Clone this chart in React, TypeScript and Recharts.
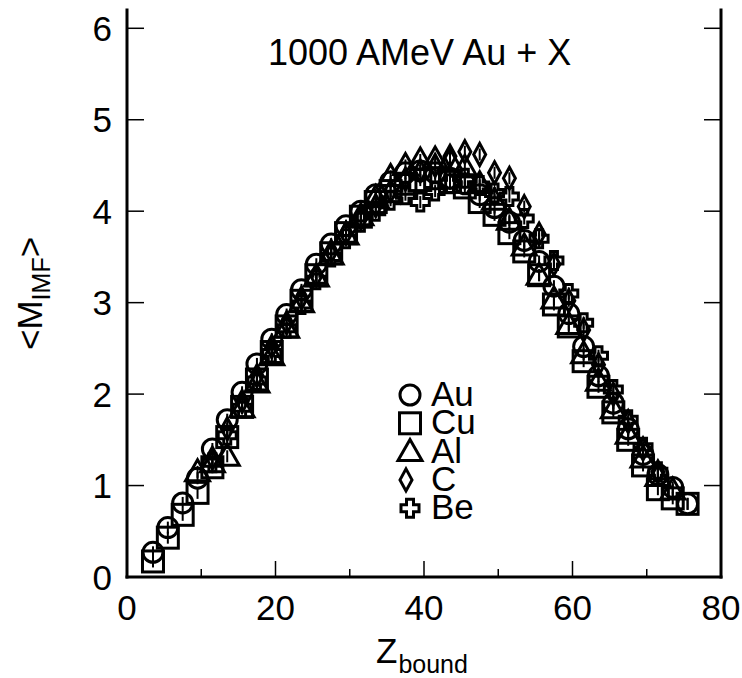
import React from 'react';
import { ScatterChart, Scatter, XAxis, YAxis, Customized } from 'recharts';

const FONT = '"Liberation Sans", Arial, Helvetica, sans-serif';

// Z_bound bins
const zAu = [3.5, 5.5, 7.5, 9.5, 11.5, 13.5, 15.5, 17.5, 19.5, 21.5, 23.5, 25.5, 27.5, 29.5, 31.5, 33.5, 35.5, 37.5, 39.5, 41.5, 43.5, 45.5, 47.5, 49.5, 51.5, 53.5, 55.5, 57.5, 59.5, 61.5, 63.5, 65.5, 67.5, 69.5, 71.5, 73.5, 75.5];
const mAu = [0.27, 0.54, 0.81, 1.08, 1.40, 1.72, 2.02, 2.33, 2.60, 2.87, 3.14, 3.42, 3.64, 3.84, 4.00, 4.18, 4.32, 4.42, 4.44, 4.42, 4.36, 4.30, 4.18, 4.04, 3.88, 3.68, 3.45, 3.18, 2.88, 2.52, 2.20, 1.90, 1.62, 1.34, 1.12, 0.98, 0.80];

const zCu = zAu;
const mCu = [0.17, 0.43, 0.68, 0.92, 1.20, 1.53, 1.86, 2.16, 2.46, 2.74, 3.02, 3.30, 3.54, 3.76, 3.94, 4.10, 4.22, 4.30, 4.34, 4.36, 4.32, 4.26, 4.10, 3.96, 3.76, 3.56, 3.30, 2.98, 2.74, 2.36, 2.08, 1.80, 1.50, 1.22, 0.96, 0.86, 0.80];

const zAl = [9.5, 11.5, 13.5, 15.5, 17.5, 19.5, 21.5, 23.5, 25.5, 27.5, 29.5, 31.5, 33.5, 35.5, 37.5, 39.5, 41.5, 43.5, 45.5, 47.5, 49.5, 51.5, 53.5, 55.5, 57.5, 59.5, 61.5, 63.5, 65.5, 67.5, 69.5, 71.5, 73.5];
const mAl = [1.15, 1.25, 1.32, 1.85, 2.12, 2.42, 2.72, 3.00, 3.28, 3.52, 3.74, 3.95, 4.15, 4.38, 4.50, 4.56, 4.57, 4.55, 4.48, 4.30, 4.12, 3.90, 3.62, 3.30, 3.04, 2.76, 2.44, 2.14, 1.84, 1.56, 1.30, 1.10, 0.95];

const zC = [11.5, 13.5, 15.5, 17.5, 19.5, 21.5, 23.5, 25.5, 27.5, 29.5, 31.5, 33.5, 35.5, 37.5, 39.5, 41.5, 43.5, 45.5, 47.5, 49.5, 51.5, 53.5, 55.5, 57.5, 59.5, 61.5, 63.5, 65.5, 67.5, 69.5, 71.5];
const mC = [1.30, 1.62, 1.92, 2.20, 2.52, 2.78, 3.05, 3.30, 3.56, 3.76, 3.92, 4.06, 4.22, 4.35, 4.44, 4.50, 4.60, 4.65, 4.62, 4.42, 4.36, 4.05, 3.75, 3.42, 3.02, 2.70, 2.32, 2.00, 1.70, 1.40, 1.15];

const zBe = zC;
const mBe = [1.25, 1.55, 1.85, 2.15, 2.45, 2.72, 2.98, 3.25, 3.50, 3.70, 3.88, 4.00, 4.12, 4.18, 4.10, 4.22, 4.30, 4.36, 4.28, 4.20, 4.16, 3.92, 3.70, 3.46, 3.10, 2.78, 2.42, 2.05, 1.72, 1.42, 1.15];

const xTicks = [0, 10, 20, 30, 40, 50, 60, 70, 80];
const xMajor = [0, 20, 40, 60, 80];
const yTicks = [0, 1, 2, 3, 4, 5, 6];

const legendNames = ['Au', 'Cu', 'Al', 'C', 'Be'];
const markerTypes = ['circle', 'square', 'triangle', 'diamond', 'cross'];

const zip = (z: number[], m: number[]) => z.map((v, i) => ({ z: v, m: m[i] }));
const seriesData = [zip(zAu, mAu), zip(zCu, mCu), zip(zAl, mAl), zip(zC, mC), zip(zBe, mBe)];

const SW = 3;

function Marker({ type, cx, cy, bar = true }: { type: string; cx: number; cy: number; bar?: boolean }) {
  const common = { fill: 'none', stroke: '#000', strokeWidth: SW };
  let shape: React.ReactNode = null;
  if (type === 'circle') shape = <circle cx={cx} cy={cy} r={10} {...common} />;
  else if (type === 'square') shape = <rect x={cx - 10.5} y={cy - 10.5} width={21} height={21} {...common} />;
  else if (type === 'triangle')
    shape = <polygon points={`${cx},${cy - 12} ${cx + 12},${cy + 9} ${cx - 12},${cy + 9}`} {...common} strokeLinejoin="miter" />;
  else if (type === 'diamond')
    shape = <polygon points={`${cx},${cy - 11} ${cx + 6},${cy} ${cx},${cy + 11} ${cx - 6},${cy}`} {...common} />;
  else if (type === 'cross') {
    const a = 3.5, e = 9;
    const pts = [
      [-a, -e], [a, -e], [a, -a], [e, -a], [e, a], [a, a], [a, e], [-a, e], [-a, a], [-e, a], [-e, -a], [-a, -a],
    ].map(([dx, dy]) => `${cx + dx},${cy + dy}`).join(' ');
    shape = <polygon points={pts} {...common} />;
  }
  return (
    <g>
      {shape}
      {bar && <line x1={cx} x2={cx} y1={cy - 6} y2={cy + 6} stroke="#000" strokeWidth={2} />}
    </g>
  );
}

const tickStyle = { fontSize: 35, fontFamily: FONT, fill: '#000' };

const BottomTick = (p: any) => {
  const v = p.payload.value;
  const major = xMajor.includes(v);
  return (
    <g>
      <line x1={p.x} x2={p.x} y1={p.y} y2={p.y - (major ? 16 : 8)} stroke="#000" strokeWidth={1.5} />
      {major && (
        <text x={p.x} y={p.y + 43} textAnchor="middle" {...tickStyle}>
          {v}
        </text>
      )}
    </g>
  );
};

const TopTick = (p: any) => {
  const v = p.payload.value;
  const major = xMajor.includes(v);
  return <line x1={p.x} x2={p.x} y1={p.y} y2={p.y + (major ? 16 : 8)} stroke="#000" strokeWidth={1.5} />;
};

const LeftTick = (p: any) => (
  <g>
    <line x1={p.x} x2={p.x + 17} y1={p.y} y2={p.y} stroke="#000" strokeWidth={1.5} />
    <text x={p.x - 15} y={p.y + 12.5} textAnchor="end" {...tickStyle}>
      {p.payload.value}
    </text>
  </g>
);

const RightTick = (p: any) => <line x1={p.x} x2={p.x - 17} y1={p.y} y2={p.y} stroke="#000" strokeWidth={1.5} />;

const Overlay = () => (
  <g fontFamily={FONT} fill="#000">
    <text x={268} y={65} fontSize={36}>1000 AMeV Au + X</text>
    <text x={376} y={663} fontSize={35}>
      Z
      <tspan fontSize={25} dx={1} dy={10}>bound</tspan>
    </text>
    <text transform="translate(42,350) rotate(-90)" fontSize={35}>
      {'<M'}
      <tspan fontSize={25} dy={8}>IMF</tspan>
      <tspan dy={-8}>{'>'}</tspan>
    </text>
    {legendNames.map((n, i) => {
      const cy = 395 + i * 28.3;
      return (
        <g key={n}>
          <Marker type={markerTypes[i]} cx={i === 3 ? 406 : 410} cy={cy} bar={false} />
          <text x={431} y={cy + 11} fontSize={35}>
            {n}
          </text>
        </g>
      );
    })}
  </g>
);

const axisLine = { stroke: '#000', strokeWidth: 3, strokeLinecap: 'square' as const };

export default function App() {
  return (
    <div style={{ position: 'absolute', left: 0, top: 0, background: '#fff' }}>
      <ScatterChart width={742} height={678} margin={{ top: 10, right: 0, bottom: 0, left: 0 }}>
        <XAxis
          xAxisId="b"
          type="number"
          dataKey="z"
          domain={[0, 80]}
          ticks={xTicks}
          orientation="bottom"
          height={101}
          tickSize={0}
          tickMargin={0}
          tickLine={false}
          axisLine={axisLine}
          tick={BottomTick}
          interval={0}
          allowDataOverflow
        />
        <XAxis
          xAxisId="t"
          type="number"
          dataKey="z"
          domain={[0, 80]}
          ticks={xTicks}
          orientation="top"
          height={0}
          tickSize={0}
          tickMargin={0}
          tickLine={false}
          axisLine={axisLine}
          tick={TopTick}
          interval={0}
          allowDataOverflow
        />
        <YAxis
          yAxisId="l"
          type="number"
          dataKey="m"
          domain={[0, 6.2]}
          ticks={yTicks}
          orientation="left"
          width={127}
          tickSize={0}
          tickMargin={0}
          tickLine={false}
          axisLine={axisLine}
          tick={LeftTick}
          interval={0}
          allowDataOverflow
        />
        <YAxis
          yAxisId="r"
          type="number"
          dataKey="m"
          domain={[0, 6.2]}
          ticks={yTicks}
          orientation="right"
          width={21}
          tickSize={0}
          tickMargin={0}
          tickLine={false}
          axisLine={axisLine}
          tick={RightTick}
          interval={0}
          allowDataOverflow
        />
        {seriesData.map((d, i) => (
          <Scatter
            key={legendNames[i]}
            name={legendNames[i]}
            data={d}
            xAxisId="b"
            yAxisId="l"
            isAnimationActive={false}
            shape={(p: any) => <Marker type={markerTypes[i]} cx={p.cx} cy={p.cy} />}
          />
        ))}
        <Customized component={Overlay} />
      </ScatterChart>
    </div>
  );
}
